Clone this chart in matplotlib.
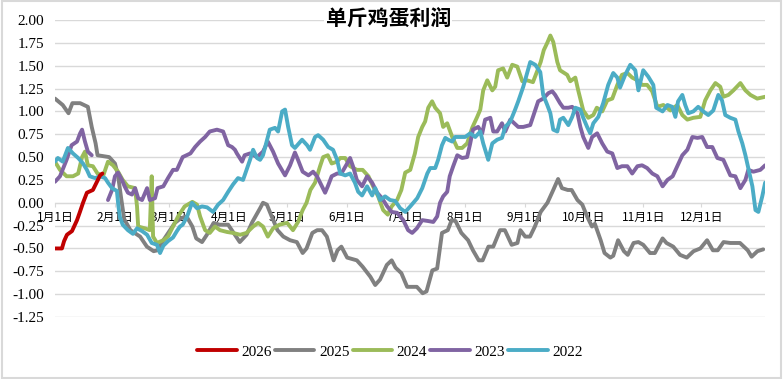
import numpy as np
import matplotlib
matplotlib.use('Agg')
from matplotlib import pyplot as plt
from matplotlib.patches import Rectangle

plt.rcParams['font.family'] = ['Liberation Serif', 'Noto Sans CJK SC']

# day-of-year positions of the month ticks
month_days = [0, 31, 59, 90, 120, 151, 181, 212, 243, 273, 304, 334]
month_labels = ['1月1日', '2月1日', '3月1日', '4月1日', '5月1日', '6月1日',
                '7月1日', '8月1日', '9月1日', '10月1日', '11月1日', '12月1日']

days_2026 = [0, 3.6, 4.7, 6.2, 8.8, 11.4, 12.9, 14.5, 16.5, 19.6, 21.7, 23.3, 24.5]
vals_2026 = [-0.50, -0.50, -0.42, -0.35, -0.31, -0.19, -0.10, 0.00, 0.11, 0.14, 0.23, 0.30, 0.32]

days_2025 = [0, 4, 7, 9, 13, 17, 19, 21, 22, 28, 31, 32.6, 34.2, 35.8, 39, 44, 47.5, 51, 53, 56,
             59.5, 62, 65, 68, 71, 73, 76, 78.5, 82, 85, 89.5, 92, 95.5, 99, 102, 106, 107.5,
             109.5, 112, 115, 118, 121.5, 125, 128, 130, 133, 135.5, 138, 140.5, 144, 146, 148,
             151, 156, 159, 163, 165.5, 168, 171.5, 174, 176, 179, 182, 187, 190, 192, 195,
             197.5, 200, 203, 205, 207, 210, 213.5, 216, 219, 221, 224, 226.5, 230, 232.5, 236,
             239, 240.5, 243, 245.5, 248, 251, 254.5, 257.5, 260, 262, 265, 267, 270, 272.5,
             275, 277.5, 279, 282, 284, 287, 288.5, 291, 294, 296, 299, 301.5, 304, 307.5, 310,
             314, 316, 319.5, 323, 326.5, 330, 333.5, 337, 340, 342.5, 345.5, 349, 354, 358,
             360, 363, 366]
vals_2025 = [1.14, 1.07, 0.98, 1.09, 1.09, 1.05, 0.83, 0.65, 0.52, 0.50, 0.43, 0.30, 0.05, -0.18,
             -0.30, -0.37, -0.48, -0.53, -0.52, -0.41, -0.30, -0.22, -0.17, -0.15, -0.26, -0.39,
             -0.43, -0.35, -0.22, -0.24, -0.24, -0.32, -0.43, -0.35, -0.21, -0.06, 0.00, -0.02,
             -0.15, -0.30, -0.37, -0.41, -0.43, -0.55, -0.50, -0.33, -0.30, -0.30, -0.37, -0.63,
             -0.52, -0.48, -0.60, -0.63, -0.70, -0.81, -0.90, -0.84, -0.68, -0.63, -0.71, -0.77,
             -0.92, -0.92, -0.99, -0.97, -0.74, -0.72, -0.33, -0.30, -0.19, -0.20, -0.33, -0.41,
             -0.52, -0.63, -0.63, -0.48, -0.48, -0.30, -0.30, -0.46, -0.44, -0.30, -0.37, -0.37,
             -0.26, -0.10, 0.00, 0.14, 0.26, 0.16, 0.14, 0.14, 0.03, -0.02, -0.15, -0.26, -0.23,
             -0.41, -0.55, -0.60, -0.58, -0.41, -0.53, -0.57, -0.44, -0.43, -0.46, -0.55, -0.55,
             -0.39, -0.44, -0.48, -0.57, -0.60, -0.53, -0.50, -0.41, -0.52, -0.52, -0.43, -0.44,
             -0.44, -0.52, -0.59, -0.53, -0.51]

days_2024 = [0, 2.6, 6, 9.3, 12, 14, 15.5, 17, 19.6, 22, 25, 27.4, 30, 32.6, 35, 37.7, 41.4, 42.4,
             43, 46.5, 49, 50, 50.7, 52.7, 56, 58.4, 61, 63.6, 67, 71, 73.4, 75, 77.6, 80, 82.7,
             85.3, 89, 92, 95.7, 99, 102.4, 105, 107.5, 110, 112.7, 116, 120, 123, 125.6, 128,
             130, 132, 134.4, 137, 138.6, 141, 143, 145.8, 147.4, 150, 152.5, 156, 159, 162,
             164.4, 167, 169.6, 172, 174, 176.8, 179, 181, 183.6, 186, 187.7, 189.8, 191.3,
             192.9, 194.9, 196.5, 199, 200.6, 202.7, 205.3, 207.9, 210.4, 213, 215.6, 218.2,
             219.8, 221.3, 223.4, 226, 227.5, 229, 231.6, 233.7, 236.3, 238.9, 241.5, 244, 247,
             251, 252.6, 254.4, 256, 257.5, 259.6, 261, 264.7, 266.3, 268.9, 270.4, 273, 275.6,
             278.2, 280, 282.8, 285.4, 288, 290.6, 293, 295.8, 298.3, 301, 303.4, 306, 308.6,
             311.3, 314.4, 318, 321.6, 324.2, 326.8, 329.9, 333.5, 336, 338.7, 341.3, 343.8,
             345.4, 348, 350.6, 354.2, 356.8, 359.4, 362.9, 367]
vals_2024 = [0.45, 0.36, 0.29, 0.29, 0.32, 0.50, 0.56, 0.41, 0.40, 0.32, 0.30, 0.45, 0.41, 0.34,
             0.25, 0.18, 0.16, -0.04, -0.26, -0.28, -0.30, 0.29, -0.37, -0.44, -0.41, -0.37,
             -0.26, -0.15, -0.04, 0.01, -0.02, -0.15, -0.30, -0.33, -0.26, -0.30, -0.32, -0.33,
             -0.35, -0.33, -0.26, -0.22, -0.26, -0.37, -0.28, -0.24, -0.22, -0.30, -0.21, -0.08,
             0.00, 0.14, 0.22, 0.40, 0.50, 0.52, 0.43, 0.45, 0.49, 0.49, 0.40, 0.36, 0.36, 0.29,
             0.18, 0.07, -0.08, -0.13, -0.04, 0.03, 0.14, 0.33, 0.36, 0.54, 0.72, 0.83, 0.89,
             1.04, 1.11, 1.04, 0.98, 0.83, 0.87, 0.72, 0.60, 0.60, 0.65, 0.82, 0.94, 1.02, 1.23,
             1.34, 1.23, 1.27, 1.45, 1.47, 1.37, 1.51, 1.49, 1.33, 1.34, 1.32, 1.54, 1.67, 1.75,
             1.83, 1.76, 1.54, 1.45, 1.40, 1.33, 1.37, 1.23, 1.01, 0.93, 0.96, 1.04, 1.00, 1.12,
             1.14, 1.29, 1.40, 1.42, 1.37, 1.34, 1.29, 1.29, 1.22, 1.05, 1.07, 1.01, 1.07, 0.96,
             0.91, 0.93, 0.94, 1.12, 1.23, 1.31, 1.27, 1.16, 1.18, 1.23, 1.31, 1.23, 1.18, 1.14,
             1.16]

days_2023 = [0, 2.6, 6, 8.6, 11.4, 13, 14, 15.5, 17, 19, 23, 27.4, 29.5, 31, 32.6, 34.6, 36, 37.7,
             39.8, 41.4, 43, 45, 47.6, 49, 51.7, 53, 56, 58.4, 61, 63, 66, 70, 72.4, 75, 77.6,
             80, 83.7, 86.9, 89.5, 91.5, 93, 94, 96.7, 98, 100.8, 104.4, 107.5, 110, 112.7,
             115.3, 118.9, 121.5, 124, 125.6, 128, 131, 133.4, 135.4, 138, 139.6, 141, 143,
             145.8, 148, 151, 152.5, 154, 156, 158.7, 161.3, 163.9, 166.5, 169, 171.7, 174,
             176.8, 180, 182.5, 184.6, 187, 189.8, 192.9, 195.5, 197.5, 199, 200.6, 202.7, 204,
             205.8, 207.9, 210.4, 213, 214.6, 216, 218.7, 220.8, 222.3, 225, 226.5, 228.5, 231,
             232.7, 235.3, 239.4, 242, 245.6, 247, 249.7, 252.3, 255, 257, 258.5, 261, 262.7,
             265.3, 267.3, 270, 271.5, 273, 275.6, 277.6, 280.2, 282.8, 285.4, 288, 290.6, 293,
             295.8, 298.3, 301, 303.4, 306, 308.7, 311.3, 314, 316.5, 319.2, 321.6, 324.2,
             326.8, 329.4, 332, 334.5, 337, 339.7, 342.3, 345.4, 349, 351.6, 354.2, 356.8,
             358.3, 360.9, 364.5, 367]
vals_2023 = [0.23, 0.29, 0.47, 0.63, 0.67, 0.76, 0.80, 0.67, 0.56, 0.52, np.nan, 0.03, 0.14, 0.29,
             0.33, 0.25, 0.18, 0.11, 0.09, 0.16, 0.05, 0.03, 0.16, 0.03, 0.05, 0.16, 0.18, 0.27,
             0.36, 0.36, 0.50, 0.54, 0.61, 0.67, 0.72, 0.78, 0.80, 0.78, 0.63, 0.61, 0.58, 0.54,
             0.45, 0.52, 0.54, 0.50, 0.56, 0.67, 0.56, 0.43, 0.30, 0.41, 0.55, 0.47, 0.34, 0.30,
             0.34, 0.29, 0.18, 0.11, 0.18, 0.29, 0.32, 0.32, 0.43, 0.49, 0.40, 0.25, 0.18, 0.29,
             0.22, 0.11, 0.05, -0.04, -0.10, -0.11, -0.19, -0.30, -0.33, -0.28, -0.19, -0.20,
             -0.21, -0.15, 0.00, 0.07, 0.12, 0.29, 0.40, 0.52, 0.49, 0.50, 0.65, 0.80, 0.83, 0.76,
             0.91, 0.93, 0.78, 0.78, 0.87, 0.78, 0.91, 0.83, 0.83, 0.85, 0.94, 1.11, 1.14, 1.20,
             1.22, 1.18, 1.09, 1.04, 1.04, 1.05, 0.98, 0.83, 0.72, 0.60, 0.72, 0.76, 0.65, 0.56,
             0.54, 0.38, 0.40, 0.40, 0.32, 0.40, 0.41, 0.38, 0.32, 0.29, 0.18, 0.25, 0.29, 0.40,
             0.52, 0.58, 0.72, 0.71, 0.72, 0.61, 0.61, 0.49, 0.47, 0.30, 0.29, 0.16, 0.25, 0.36,
             0.34, 0.36, 0.41]

days_2022 = [0, 1.5, 4, 6.7, 9.3, 12, 14.5, 16.5, 18, 20.7, 23.3, 25.9, 27.4, 29.5, 32, 32.8,
             33.6, 35, 37.7, 40.3, 42.4, 45, 47.6, 50, 52.7, 54.3, 56, 58.4, 61, 63, 64.6, 66,
             68.3, 70.8, 73.4, 76, 78.6, 81.7, 84.3, 86.9, 89.5, 92, 94.6, 97.2, 99.3, 100.8,
             102.4, 104.4, 106, 107.5, 109.6, 111, 113.7, 115.3, 117.4, 118.9, 120.5, 122.5, 124,
             127.7, 130.3, 131.8, 134.4, 136, 138.6, 141.2, 143.7, 145.8, 147.4, 150, 152.5, 155,
             156.7, 158.7, 161.3, 163.9, 165.5, 168, 170.6, 173.2, 175.8, 178.4, 181, 183.6,
             187.2, 189.8, 192.4, 193.9, 196.5, 198, 200, 201.7, 203.2, 205.3, 206.8, 212, 214.6,
             217.2, 219.8, 221.3, 223.9, 226, 228.5, 231, 232.7, 235.3, 237.8, 239.4, 242, 244,
             245.6, 248.2, 250.8, 252.3, 254.4, 256, 257.5, 259.6, 261, 262.7, 265.3, 267.3,
             268.9, 271.5, 273, 275, 276.6, 278.2, 280.8, 283.3, 285.9, 288.5, 290.6, 292, 294.7,
             297.3, 299.9, 301.5, 304, 306.6, 309.2, 310.7, 314, 316.5, 319, 320.6, 322, 324.2,
             325.7, 327.3, 329.9, 332.4, 335, 337.6, 340.2, 342.8, 344.7, 346.4, 349, 351.6,
             353.2, 355.2, 356.8, 358.3, 360.4, 362, 363.5, 365.5, 367]
vals_2022 = [0.45, 0.49, 0.45, 0.60, 0.54, 0.49, 0.43, 0.36, 0.29, 0.27, 0.29, 0.27, 0.22, 0.16,
             0.13, -0.04, -0.16, -0.24, -0.30, -0.34, -0.28, -0.31, -0.35, -0.44, -0.46, -0.55,
             -0.47, -0.42, -0.38, -0.31, -0.26, -0.24, -0.15, 0.00, -0.06, -0.04, -0.05, -0.10,
             -0.02, 0.03, 0.12, 0.20, 0.27, 0.25, 0.38, 0.47, 0.58, 0.49, 0.47, 0.52, 0.69, 0.80,
             0.82, 0.78, 1.00, 1.02, 0.83, 0.63, 0.60, 0.69, 0.63, 0.58, 0.72, 0.74, 0.69, 0.61,
             0.58, 0.47, 0.32, 0.30, 0.32, 0.22, 0.12, 0.08, 0.18, 0.08, 0.16, 0.03, 0.07, 0.03,
             0.02, -0.06, -0.10, -0.04, 0.05, 0.16, 0.32, 0.38, 0.38, 0.47, 0.63, 0.71, 0.69,
             0.67, 0.72, 0.72, 0.76, 0.72, 0.78, 0.65, 0.47, 0.65, 0.69, 0.71, 0.83, 0.89, 1.02,
             1.11, 1.27, 1.42, 1.54, 1.51, 1.43, 1.18, 1.07, 0.98, 0.80, 0.78, 0.91, 0.93, 0.85,
             0.94, 1.04, 1.02, 0.93, 0.83, 0.76, 0.87, 0.94, 1.09, 1.29, 1.42, 1.37, 1.26, 1.40,
             1.51, 1.45, 1.23, 1.45, 1.38, 1.29, 1.04, 1.00, 1.07, 1.05, 0.94, 1.11, 1.18, 1.07,
             0.98, 1.00, 1.05, 1.00, 0.96, 1.01, 1.18, 1.12, 0.96, 0.93, 0.91, 0.78, 0.65, 0.52,
             0.38, 0.18, -0.08, -0.10, 0.07, 0.22]

series = [
    ('2026', days_2026, vals_2026, '#C00000', 6),
    ('2025', days_2025, vals_2025, '#808080', 2),
    ('2024', days_2024, vals_2024, '#9BBB59', 3),
    ('2023', days_2023, vals_2023, '#8064A2', 4),
    ('2022', days_2022, vals_2022, '#4BACC6', 5),
]

fig = plt.figure(figsize=(7.83, 3.79), dpi=100)
ax = fig.add_axes([0.0702, 0.1636, 0.907, 0.7836])

for name, d, v, c, z in series:
    ax.plot(d, v, color=c, lw=2.8, label=name, zorder=z, solid_capstyle='round')

ax.set_xlim(0, 367)
ax.set_ylim(-1.25, 2.0)
ax.set_yticks(np.arange(-1.25, 2.01, 0.25))
ax.set_yticklabels([f'{t:.2f}' for t in np.arange(-1.25, 2.01, 0.25)], fontsize=11)
ax.grid(axis='y', color='#D9D9D9', lw=1.0, zorder=0)
ax.set_axisbelow(True)

for s in ['top', 'right', 'left']:
    ax.spines[s].set_visible(False)
ax.spines['bottom'].set_position(('data', 0))
ax.spines['bottom'].set_color('#D9D9D9')
ax.spines['bottom'].set_zorder(1)

ax.set_xticks(month_days)
ax.set_xticklabels(month_labels, family=['Noto Sans CJK SC', 'DejaVu Sans'], fontsize=8.5)
ax.tick_params(axis='x', direction='out', length=3, color='#D9D9D9', pad=3)
ax.tick_params(axis='y', length=0, pad=8)

fig.text(0.496, 0.952, '单斤鸡蛋利润', ha='center', va='center', fontsize=15,
         family=['Noto Sans CJK SC'], fontweight='bold',
         bbox=dict(facecolor='white', edgecolor='none', pad=1))

fig.legend(loc='center', bbox_to_anchor=(0.498, 0.072), ncol=5, frameon=False,
           fontsize=11, handlelength=2.6, handletextpad=0.3, columnspacing=0.2)

fig.patches.append(Rectangle((0.002, 0.003), 0.995, 0.994, transform=fig.transFigure,
                             fill=False, edgecolor='#D9D9D9', lw=1.5))

fig.savefig('out.png', dpi=100)
